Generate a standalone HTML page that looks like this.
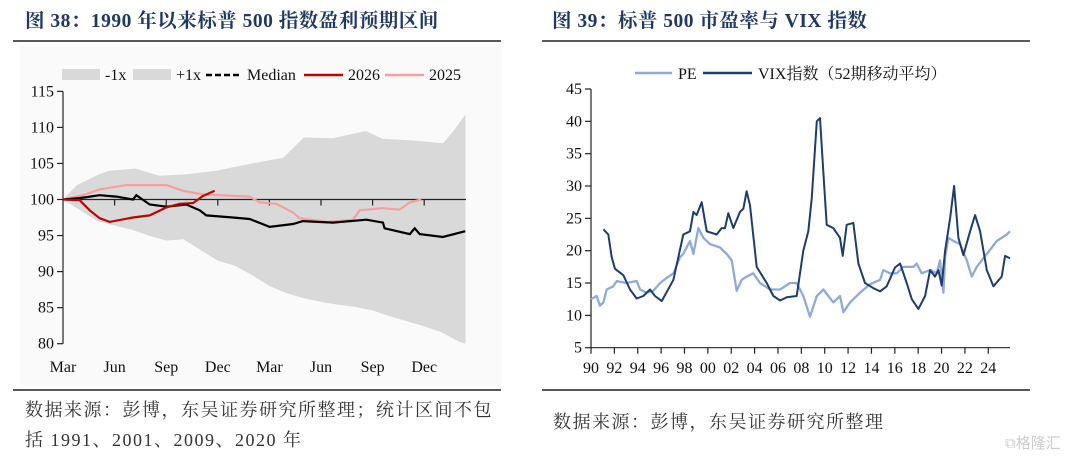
<!DOCTYPE html>
<html><head><meta charset="utf-8"><style>
html,body{margin:0;padding:0;background:#fff;width:1080px;height:458px;overflow:hidden}
svg{display:block}
.t{font-family:"Liberation Serif","Noto Serif CJK SC",serif;font-size:16px;fill:#111}
.title{font-family:"Liberation Serif","Noto Serif CJK SC",serif;font-size:19.5px;font-weight:bold;fill:#1f3864;letter-spacing:0.5px}
.note{font-family:"Liberation Serif","Noto Serif CJK SC",serif;font-size:18px;fill:#333;letter-spacing:1.5px}
</style></head><body>
<svg id="s" width="1080" height="458" xmlns="http://www.w3.org/2000/svg">
<rect x="20" y="46" width="482" height="340" fill="#fafafa"/>
<text class="title" x="25" y="27">图 38：1990 年以来标普 500 指数盈利预期区间</text>
<line x1="13" y1="41" x2="501" y2="41" stroke="#222" stroke-width="1.5"/>
<line x1="13" y1="390" x2="501" y2="390" stroke="#222" stroke-width="1.5"/>
<text class="note" x="25" y="416">数据来源：彭博，东吴证券研究所整理；统计区间不包</text>
<text class="note" x="25" y="446">括 1991、2001、2009、2020 年</text>
<text class="title" x="552" y="27">图 39：标普 500 市盈率与 VIX 指数</text>
<line x1="542" y1="41" x2="1030" y2="41" stroke="#222" stroke-width="1.5"/>
<line x1="542" y1="390" x2="1030" y2="390" stroke="#222" stroke-width="1.5"/>
<text class="note" x="553" y="428">数据来源：彭博，东吴证券研究所整理</text>
<text x="1005" y="448" font-family="Liberation Sans,WenQuanYi Zen Hei,sans-serif" font-size="15" fill="#ccc">⧉格隆汇</text>
<g id="L"></g><g id="R"></g>
</svg>
<script>
// Left chart data (months since Mar)
const upM=[0,0.8,2.1,2.7,4.2,5.6,7.2,8.9,11,12.8,14,15.7,17.6,18.6,20.3,22.1,22.7,23.4];
const upV=[100,102,103.5,104,104.3,103.3,103.5,104,105,105.8,108.6,108.5,109.5,108.4,108.2,107.8,109.5,111.8];
const loM=[0,1,2,4,5,6,7,8,9,10,11,12,13,14,15,16,17,18,19,20,21,22,23,23.4];
const loV=[100,98.5,97,95.8,95,94.3,94.5,93,91.5,90.8,89.5,88,87,86.3,85.8,85.4,85.1,84.6,83.8,83.1,82.4,81.6,80.3,80];
const medM=[0,0.97,2.13,3.1,4.07,4.26,5.04,6.01,7.17,7.95,8.33,9.88,10.85,12.02,13.37,13.95,15.7,17.64,18.6,18.7,20.16,20.45,20.74,22.09,23.39];
const medV=[100,100.2,100.6,100.4,100,100.6,99.3,99,99.3,98.5,97.8,97.5,97.3,96.2,96.6,97,96.8,97.2,96.8,96,95.2,96,95.2,94.8,95.6];
const y26M=[0,0.97,1.55,2.13,2.71,4.07,5.04,6.01,6.78,7.56,8.14,8.82];
const y26V=[100,99.9,98.5,97.4,96.9,97.5,97.8,98.9,99.4,99.5,100.5,101.2];
const y25M=[0,1.16,2.13,3.68,6.01,6.98,8.14,9.88,10.85,11.43,12.4,13.37,13.76,15.31,16.86,17.25,18.6,19.57,20.16,20.83];
const y25V=[100,100.6,101.4,102,102,101.2,100.7,100.5,100.4,99.6,99.4,98.2,97.4,96.9,97.2,98.5,98.8,98.6,99.6,100];
const leftYTicks=[80,85,90,95,100,105,110,115];
const leftXLabels=["Mar","Jun","Sep","Dec","Mar","Jun","Sep","Dec"];
// Right chart data
const vixYr=[1991.06,1991.48,1991.77,1992.05,1992.77,1993.34,1993.91,1994.48,1995.05,1995.48,1996.05,1997.05,1997.9,1998.47,1998.76,1999.04,1999.47,1999.9,2000.76,2001.18,2001.47,2001.75,2002.18,2002.75,2003.04,2003.32,2003.61,2004.18,2005.04,2005.61,2006.18,2006.75,2007.6,2008.17,2008.6,2008.89,2009.32,2009.6,2009.89,2010.17,2010.74,2011.31,2011.54,2011.88,2012.45,2012.88,2013.45,2014.17,2014.74,2015.31,2016.02,2016.45,2017.02,2017.45,2018.02,2018.59,2019.02,2019.44,2019.73,2020.01,2020.3,2020.73,2021.07,2021.44,2021.87,2022.44,2022.87,2023.3,2023.87,2024.44,2025.15,2025.44,2025.86];
const vixV=[23.3,22.5,19,17.2,16.2,14,12.6,13,14,13,12.2,15.5,22.5,23,26,25.5,27.5,23,22.5,23.5,23.5,25.8,23.5,26,26.5,29.2,27,17.5,15,13,12.3,12.8,13,20,23,28,40,40.5,32,24,23.5,22,19.2,24,24.3,18,15,14.2,13.7,14.5,17.4,18,15,12.5,11,13,17,16,17,14.6,20,25,30,22,19.3,23,25.5,23,17,14.5,16,19.2,18.8];
const peYr=[1990,1990.49,1990.77,1991.06,1991.34,1991.91,1992.2,1993.05,1993.91,1994.19,1994.76,1995.34,1995.91,1996.48,1997.05,1997.62,1997.9,1998.47,1998.76,1999.19,1999.61,2000.19,2001.04,2001.61,2002.04,2002.47,2002.9,2003.32,2003.89,2004.46,2005.32,2006.18,2007.03,2007.6,2008.17,2008.74,2009.32,2009.89,2010.31,2010.74,2011.31,2011.6,2012.17,2013.02,2013.88,2014.74,2015.02,2015.59,2016.16,2016.73,2017.59,2017.87,2018.3,2019.02,2019.59,2019.87,2020.16,2020.3,2020.59,2021.02,2021.59,2022.16,2022.58,2023.01,2023.87,2024.73,2025.58,2025.86];
const peV=[12.5,13,11.5,12,14,14.5,15.3,15,15.3,14,13.5,13.8,15,15.8,16.5,19,19.5,21.5,19.5,23.5,22,21,20.5,19.5,18.5,13.8,15.5,16,16.5,15,14,14,15,15,13,9.8,13,14,13,12,13,10.5,12,13.5,14.8,15.5,17,16.5,16.5,17.5,17.5,18,16.5,17,16.5,18.5,13.5,19,22,21.5,21,18.5,16,17.5,19.5,21.5,22.5,23];
const rightYTicks=[5,10,15,20,25,30,35,40,45];
const rightXLabels=["90","92","94","96","98","00","02","04","06","08","10","12","14","16","18","20","22","24"];

const NS="http://www.w3.org/2000/svg";
function mk(parent,tag,attrs){const e=document.createElementNS(NS,tag);for(const k in attrs)e.setAttribute(k,attrs[k]);parent.appendChild(e);return e;}
function pts(xs,ys,fx,fy){return xs.map((x,i)=>fx(x).toFixed(1)+","+fy(ys[i]).toFixed(1)).join(" ");}

// LEFT
const L=document.getElementById('L');
const lx=m=>63+m*17.2, ly=v=>199.5-(v-100)*7.21;
let band=mk(L,'polygon',{points:pts(upM,upV,lx,ly)+" "+pts(loM.slice().reverse(),loV.slice().reverse(),lx,ly),fill:'#d9d9d9'});


let ax=mk(L,'line',{x1:63,y1:ly(115),x2:63,y2:ly(80),stroke:'#222','stroke-width':1.2});


leftYTicks.forEach(v=>{
  let tk=mk(L,'line',{x1:57,y1:ly(v),x2:63,y2:ly(v),stroke:'#222','stroke-width':1.2});
  
  
  let t=mk(L,'text',{x:54,y:ly(v)+5,'text-anchor':'end',class:'t'});t.textContent=v;
  
  
});
let base=mk(L,'line',{x1:63,y1:ly(100),x2:466,y2:ly(100),stroke:'#222','stroke-width':1.2});


leftXLabels.forEach((s,i)=>{
  if(i>0){let tk=mk(L,'line',{x1:lx(i*3),y1:ly(100),x2:lx(i*3),y2:ly(100)+6,stroke:'#222','stroke-width':1.2});
  
  }
  let t=mk(L,'text',{x:lx(i*3),y:372,'text-anchor':'middle',class:'t'});t.textContent=s;
  
  
});
let p25=mk(L,'polyline',{points:pts(y25M,y25V,lx,ly),fill:'none',stroke:'#f4a0a0','stroke-width':2.2});


let pm=mk(L,'polyline',{points:pts(medM,medV,lx,ly),fill:'none',stroke:'#000','stroke-width':2.2});


let p26=mk(L,'polyline',{points:pts(y26M,y26V,lx,ly),fill:'none',stroke:'#c00000','stroke-width':2.2});


// left legend
const lg=[['rect',62,'-1x'],['rect',133,'+1x'],['dash',206,'Median'],['red',304,'2026'],['pink',385,'2025']];
lg.forEach(([k,x,s])=>{
  let g=mk(L,'g',{});
  
  
  let w=k==='rect'?38:(k==='dash'?36:39);
  if(k==='rect')mk(g,'rect',{x:x,y:69,width:38,height:11,fill:'#d9d9d9'});
  else mk(g,'line',{x1:x,y1:75,x2:x+w,y2:75,stroke:k==='dash'?'#000':k==='red'?'#c00000':'#f4a0a0','stroke-width':2.5,'stroke-dasharray':k==='dash'?'6,3':'none'});
  let t=mk(g,'text',{x:x+w+5,y:80,class:'t'});t.textContent=s;
});

// RIGHT
const R=document.getElementById('R');
const rx=y=>591+(y-1990)*11.685, ry=v=>347.7-(v-5)*6.4675;
let rax=mk(R,'line',{x1:591,y1:ry(45),x2:591,y2:ry(5),stroke:'#222','stroke-width':1.2});


let rbx=mk(R,'line',{x1:591,y1:ry(5),x2:1010,y2:ry(5),stroke:'#222','stroke-width':1.2});


rightYTicks.forEach(v=>{
  let tk=mk(R,'line',{x1:585,y1:ry(v),x2:591,y2:ry(v),stroke:'#222','stroke-width':1.2});
  
  
  let t=mk(R,'text',{x:582,y:ry(v)+5,'text-anchor':'end',class:'t'});t.textContent=v;
  
  
});
rightXLabels.forEach((s,i)=>{
  let x=rx(1990+i*2);
  let tk=mk(R,'line',{x1:x,y1:ry(5),x2:x,y2:ry(5)+6,stroke:'#222','stroke-width':1.2});
  
  
  let t=mk(R,'text',{x:x,y:373,'text-anchor':'middle',class:'t'});t.textContent=s;
  
  
});
let pe=mk(R,'polyline',{points:pts(peYr,peV,rx,ry),fill:'none',stroke:'#8eaadb','stroke-width':2.3,'stroke-linejoin':'round'});


let vx=mk(R,'polyline',{points:pts(vixYr,vixV,rx,ry),fill:'none',stroke:'#1f3c6e','stroke-width':2,'stroke-linejoin':'round'});


[[635,672,'#8eaadb','PE'],[703,752,'#1f3c6e','VIX指数（52期移动平均）']].forEach(([a,b,c,s])=>{
  let g=mk(R,'g',{});
  
  
  mk(g,'line',{x1:a,y1:73,x2:b,y2:73,stroke:c,'stroke-width':2.5});
  let t=mk(g,'text',{x:b+6,y:79,class:'t'});t.textContent=s;
});
</script>
</body></html>
